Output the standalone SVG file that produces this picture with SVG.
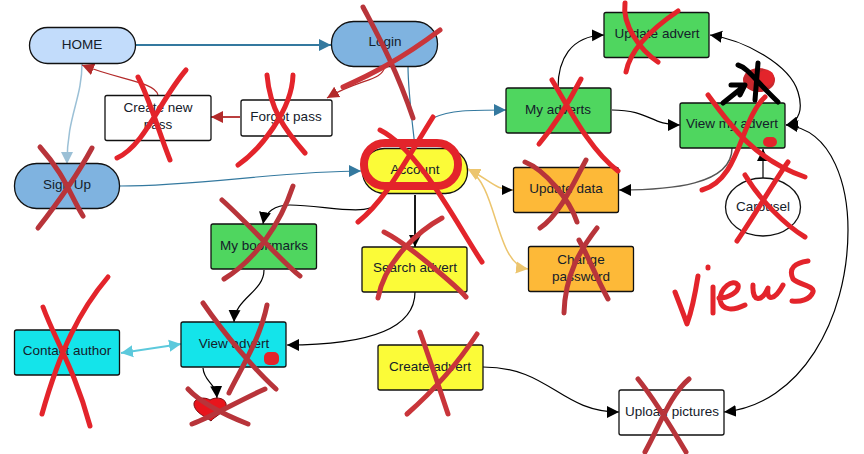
<svg xmlns="http://www.w3.org/2000/svg" width="864" height="454" viewBox="0 0 864 454">
<defs>
<marker id="ab" markerUnits="userSpaceOnUse" markerWidth="14" markerHeight="14" refX="12" refY="7" orient="auto-start-reverse"><path d="M0 1L12 7L0 13Z" fill="#000"/></marker>
<marker id="at" markerUnits="userSpaceOnUse" markerWidth="14" markerHeight="14" refX="12" refY="7" orient="auto-start-reverse"><path d="M0 1L12 7L0 13Z" fill="#34799f"/></marker>
<marker id="ar" markerUnits="userSpaceOnUse" markerWidth="14" markerHeight="14" refX="12" refY="7" orient="auto-start-reverse"><path d="M0 1L12 7L0 13Z" fill="#b32a2a"/></marker>
<marker id="al" markerUnits="userSpaceOnUse" markerWidth="14" markerHeight="14" refX="12" refY="7" orient="auto-start-reverse"><path d="M0 1L12 7L0 13Z" fill="#9bc0d6"/></marker>
<marker id="ao" markerUnits="userSpaceOnUse" markerWidth="14" markerHeight="14" refX="12" refY="7" orient="auto-start-reverse"><path d="M0 1L12 7L0 13Z" fill="#ecc56e"/></marker>
<marker id="ac" markerUnits="userSpaceOnUse" markerWidth="14" markerHeight="14" refX="12" refY="7" orient="auto-start-reverse"><path d="M0 1L12 7L0 13Z" fill="#5cc9dc"/></marker>
</defs>
<style>
text{font-family:"Liberation Sans",Arial,sans-serif;font-size:13.500px;fill:#14202a;text-anchor:middle}
.n{stroke:#111;stroke-width:1.300}
.c{fill:none;stroke:#000;stroke-width:1.200}
.x{fill:none;stroke:#e3242b;stroke-width:5;stroke-linecap:round;stroke-linejoin:round}
.d{fill:none;stroke:#b8343a;stroke-width:5;stroke-linecap:round;stroke-linejoin:round}
.g{fill:#4fd65f}.o{fill:#fdb938}.y{fill:#fbfb38}.t{fill:#14e4ea}.w{fill:#fff}.b{fill:#7fb3e0}
</style>
<rect width="864" height="454" fill="#fff"/>
<g id="connectors">
<path class="c" style="stroke:#34799f;stroke-width:1.800" marker-end="url(#at)" d="M135 45H331"/>
<path class="c" style="stroke:#9bc0d6;stroke-width:1.500" marker-end="url(#al)" d="M82 63C82 100 67 115 67 164"/>
<path class="c" style="stroke:#34799f" marker-end="url(#at)" d="M120 186C200 186 280 171 361 171"/>
<path class="c" style="stroke:#34799f" d="M408 66C408 90 412 120 415 147"/>
<path class="c" style="stroke:#b32a2a" marker-end="url(#ar)" d="M385 66C382 82 360 78 327 98"/>
<path class="c" style="stroke:#b32a2a;stroke-width:1.800" marker-end="url(#ar)" d="M240 117H211"/>
<path class="c" style="stroke:#b32a2a" marker-end="url(#ar)" d="M158 95C155 82 120 80 82 65"/>
<path class="c" marker-end="url(#ab)" d="M382 193C380 222 330 205 290 205C275 205 265 212 263 224"/>
<path class="c" style="stroke-width:1.800" marker-end="url(#ab)" d="M415 195V247"/>
<path class="c" marker-end="url(#ab)" d="M264 270C264 292 235 298 234 322"/>
<path class="c" marker-end="url(#ab)" d="M415 292C415 335 350 345 287 345"/>
<path class="c" style="stroke:#5cc9dc;stroke-width:1.800" marker-start="url(#ac)" marker-end="url(#ac)" d="M121 353L181 344"/>
<path class="c" marker-end="url(#ab)" d="M203 368C204 382 216 383 217 398"/>
<path class="c" style="stroke:#34799f" marker-end="url(#at)" d="M433 118C450 110 470 110 506 110"/>
<path class="c" marker-end="url(#ab)" d="M558 88C558 60 570 36 604 35"/>
<path class="c" marker-end="url(#ab)" d="M612 110C650 110 650 125 680 125"/>
<path class="c" style="stroke:#555;stroke-width:1.500" marker-end="url(#ab)" d="M732 148C732 185 670 190 619 190"/>
<path class="c" marker-start="url(#ab)" marker-end="url(#ab)" d="M710 35C745 40 790 65 798 92C803 108 800 122 786 125"/>
<path class="c" marker-end="url(#ab)" d="M763 179V149"/>
<path class="c" marker-start="url(#ab)" marker-end="url(#ab)" d="M786 125C835 130 848 190 848 230C848 320 800 405 724 412"/>
<path class="c" marker-end="url(#ab)" d="M483 367C550 367 560 412 619 412"/>
<path class="c" style="stroke:#ecc56e;stroke-width:1.500" marker-end="url(#ao)" d="M513 190C495 190 490 180 468 169"/>
<path d="M502 185L513 190L502 195Z" fill="#000"/>
<path class="c" style="stroke:#ecc56e;stroke-width:1.500" marker-start="url(#ao)" marker-end="url(#ao)" d="M468 169C498 185 495 265 528 269"/>
</g>
<g id="home"><rect class="n" x="29.500" y="27.500" width="106" height="36" rx="18" fill="#c2dcfb"/><text x="82" y="49">HOME</text></g>
<g id="login"><rect class="n" x="331.500" y="21.500" width="106" height="45" rx="22" fill="#7fb3e0"/><text x="385" y="46">Login</text></g>
<g id="create-new-pass"><rect class="n w" x="105" y="95.500" width="106" height="45" rx="2"/><text x="158" y="112">Create new</text><text x="158" y="129">pass</text></g>
<g id="forgot-pass"><rect class="n w" x="241" y="100" width="91" height="36" rx="2"/><text x="286" y="121">Forgot pass</text></g>
<g id="sign-up"><rect class="n b" x="14.500" y="163.500" width="105" height="45" rx="22"/><text x="67" y="189">Sign Up</text></g>
<g id="account"><rect class="n" x="362.500" y="148.500" width="105" height="45" rx="22" fill="#fbfb38"/><text x="415" y="174">Account</text></g>
<g id="my-bookmarks"><rect class="n g" x="211" y="224" width="105.500" height="45" rx="2"/><text x="264" y="250">My bookmarks</text></g>
<g id="search-advert"><rect class="n y" x="362" y="247" width="105" height="45" rx="2"/><text x="415" y="272">Search advert</text></g>
<g id="view-advert"><rect class="n t" x="181" y="322" width="105" height="45" rx="2"/><text x="234" y="348">View advert</text></g>
<g id="contact-author"><rect class="n t" x="14.500" y="330" width="105" height="45" rx="2"/><text x="67" y="355">Contact author</text></g>
<g id="create-advert"><rect class="n y" x="378" y="345" width="105" height="45" rx="2"/><text x="430" y="371">Create advert</text></g>
<g id="upload-pictures"><rect class="n w" x="619" y="390" width="105" height="45" rx="2"/><text x="672" y="416">Upload pictures</text></g>
<g id="change-password"><rect class="n o" x="528.500" y="246.500" width="105" height="45" rx="2"/><text x="581" y="264">Change</text><text x="581" y="281">password</text></g>
<g id="update-data"><rect class="n o" x="513.500" y="167.500" width="105" height="45" rx="2"/><text x="566" y="193">Update data</text></g>
<g id="my-adverts"><rect class="n g" x="506" y="88" width="105" height="45" rx="2"/><text x="558" y="114">My adverts</text></g>
<g id="update-advert"><rect class="n g" x="604" y="12.500" width="105" height="45" rx="2"/><text x="657" y="38">Update advert</text></g>
<g id="view-my-advert"><rect class="n g" x="680" y="103" width="105" height="45" rx="2"/><text x="732" y="128">View my advert</text></g>
<g id="carousel"><ellipse class="n w" cx="763" cy="207" rx="37.500" ry="29"/><text x="763" y="211">Carousel</text></g>
<g id="scribbles">
<path d="M195 408C190 398 204 396 210 400C216 396 228 398 226 407C222 414 214 417 211 421C206 417 198 414 195 408Z" fill="#e8141c" stroke="#7a1015"/>
<rect x="264" y="352" width="15" height="13" rx="5" fill="#e3242b"/>
<ellipse cx="759" cy="80" rx="16" ry="12" fill="#c8282d"/>
<circle cx="766" cy="78" r="8" fill="#e3242b"/>
<rect x="763" y="137" width="14" height="10" rx="5" fill="#e3242b"/>
<path d="M723 103L743 87M731 85H745L740 95M738 65C748 68 755 80 778 102M758 63L755 100" fill="none" stroke="#000" stroke-width="5" stroke-linecap="round" stroke-linejoin="round"/>
<path class="d" d="M363 7C375 30 395 65 413 118"/>
<path class="x" style="stroke:#c9353a" d="M440 30C400 60 370 75 343 87"/>
<path class="x" d="M138 77C150 100 158 130 170 160M186 70C160 100 145 145 117 158"/>
<path class="x" d="M267 75C270 110 285 130 305 153M293 75C292 110 260 150 238 165"/>
<path class="d" d="M40 147C65 175 70 195 83 216M92 148C80 170 60 200 38 228"/>
<path class="x" d="M380 130C420 150 460 230 482 262M433 117C400 170 385 200 358 222"/>
<rect x="364" y="143" width="94" height="43" rx="21" fill="none" stroke="#e3242b" stroke-width="8"/>
<path class="d" d="M222 200C250 225 285 265 300 276M293 186C280 225 255 260 224 279"/>
<path class="x" style="stroke:#c9353a" d="M384 232C410 245 460 290 466 297M442 218C420 230 385 260 378 298"/>
<path class="d" d="M203 303C225 335 255 370 276 389M267 305C260 340 240 370 229 393"/>
<path class="x" d="M108 277C80 310 60 350 42 414M43 307C55 340 75 370 90 426"/>
<path class="d" d="M188 389C200 402 225 415 248 424M265 389C240 400 215 415 192 424"/>
<path class="x" style="stroke:#c9353a" d="M420 332C430 360 440 390 448 414M477 334C460 360 440 385 407 414"/>
<path class="x" d="M625 3C622 25 640 50 658 62M678 11C650 30 630 50 626 72"/>
<path class="x" d="M552 80C570 110 590 150 618 171M581 79C570 100 555 125 539 144"/>
<path class="d" d="M525 162C545 170 570 200 577 222M586 160C575 180 560 215 540 228"/>
<path class="x" d="M708 95C730 125 755 160 805 177M765 97C740 120 740 180 702 190"/>
<path class="x" d="M745 175C760 200 785 225 805 237M788 162C775 180 755 215 737 241"/>
<path class="d" d="M579 240C590 260 595 275 608 299M597 228C580 250 565 275 564 313"/>
<path class="d" d="M638 379C655 400 670 425 686 452M689 379C670 395 660 425 645 452"/>
<path class="x" d="M675 292C680 305 685 318 687 324C692 310 695 295 698 276M708 267V268M713 287V313M719 298C728 298 740 292 738 285C733 278 720 288 720 300C722 312 735 310 745 305M753 285C752 303 762 302 768 288C766 302 775 300 783 285M808 261C795 263 788 268 793 279C800 285 815 286 813 292C810 300 800 302 792 301"/>
</g>
</svg>
